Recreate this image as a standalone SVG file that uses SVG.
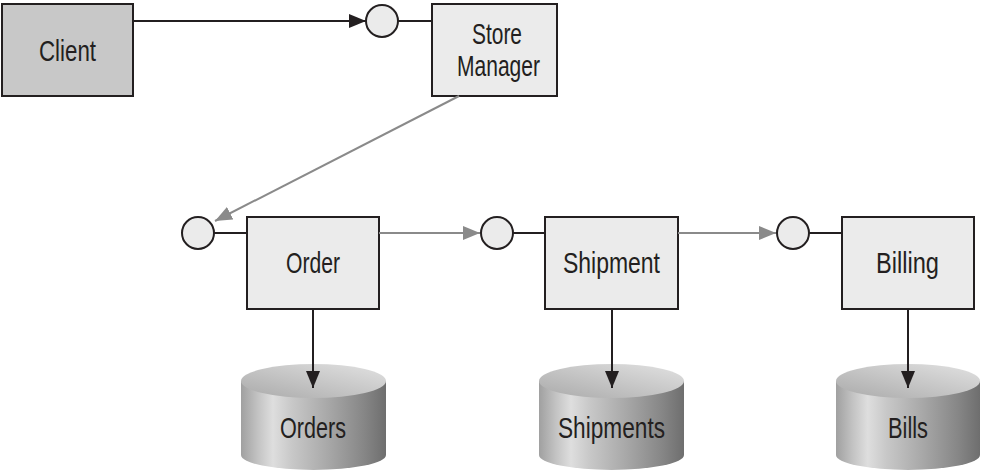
<svg xmlns="http://www.w3.org/2000/svg" width="983" height="471" viewBox="0 0 983 471">
<defs>
<style>
.box{fill:#ebebeb;stroke:#231f20;stroke-width:2}
.client{fill:#c8c8c8;stroke:#231f20;stroke-width:2}
.port{fill:#ebebeb;stroke:#231f20;stroke-width:2}
.lbl{font-family:"Liberation Sans",Arial,sans-serif;font-size:30px;fill:#231f20;text-anchor:middle}
.dark{stroke:#231f20;stroke-width:2;fill:none}
.gray{stroke:#8a8a8a;stroke-width:2;fill:none}
.cylbody{fill:url(#side)}
.cyltop{fill:url(#top)}
</style>
<linearGradient id="side" x1="0" y1="0" x2="1" y2="0">
<stop offset="0" stop-color="#a0a0a0"/>
<stop offset="0.12" stop-color="#c4c4c4"/>
<stop offset="0.22" stop-color="#dedede"/>
<stop offset="0.35" stop-color="#c8c8c8"/>
<stop offset="0.6" stop-color="#a8a8a8"/>
<stop offset="0.85" stop-color="#868686"/>
<stop offset="1" stop-color="#6e6e6e"/>
</linearGradient>
<linearGradient id="top" x1="0" y1="1" x2="1" y2="0">
<stop offset="0" stop-color="#aaaaaa"/>
<stop offset="0.5" stop-color="#c6c6c6"/>
<stop offset="1" stop-color="#e2e2e2"/>
</linearGradient>
<marker id="ahd" markerWidth="18" markerHeight="14" refX="17" refY="7" orient="auto" markerUnits="userSpaceOnUse">
<path d="M0,0 L17,7 L0,14 Z" fill="#231f20"/>
</marker>
<marker id="ahg" markerWidth="18" markerHeight="14" refX="17" refY="7" orient="auto" markerUnits="userSpaceOnUse">
<path d="M0,0 L17,7 L0,14 Z" fill="#8a8a8a"/>
</marker>
</defs>

<g id="client">
<rect class="client" x="2" y="4" width="131" height="92"/>
<text class="lbl" x="67.5" y="61" textLength="57" lengthAdjust="spacingAndGlyphs">Client</text>
</g>

<g id="store-manager-port">
<circle class="port" cx="382" cy="21" r="16"/>
</g>
<g id="store-manager">
<rect class="box" x="432" y="4" width="125" height="92"/>
<text class="lbl" x="497" y="44" textLength="50" lengthAdjust="spacingAndGlyphs">Store</text>
<text class="lbl" x="498.5" y="76" textLength="83" lengthAdjust="spacingAndGlyphs">Manager</text>
</g>

<g id="order-port">
<circle class="port" cx="198" cy="233" r="16"/>
</g>
<g id="order">
<rect class="box" x="247" y="217" width="132" height="92"/>
<text class="lbl" x="313" y="273" textLength="54" lengthAdjust="spacingAndGlyphs">Order</text>
</g>

<g id="shipment-port">
<circle class="port" cx="497" cy="233" r="16"/>
</g>
<g id="shipment">
<rect class="box" x="545" y="217" width="133" height="92"/>
<text class="lbl" x="611.5" y="273" textLength="97" lengthAdjust="spacingAndGlyphs">Shipment</text>
</g>

<g id="billing-port">
<circle class="port" cx="793" cy="233" r="16"/>
</g>
<g id="billing">
<rect class="box" x="842" y="217" width="132" height="92"/>
<text class="lbl" x="907.5" y="273" textLength="63" lengthAdjust="spacingAndGlyphs">Billing</text>
</g>

<g id="orders-db">
<path class="cylbody" d="M241,381 L241,455 A72.5,15 0 0 0 386,455 L386,381 Z"/>
<ellipse class="cyltop" cx="313.5" cy="381" rx="72.5" ry="17"/>
<text class="lbl" x="313" y="438" textLength="66" lengthAdjust="spacingAndGlyphs">Orders</text>
</g>

<g id="shipments-db">
<path class="cylbody" d="M539,381 L539,455 A72.5,15 0 0 0 684,455 L684,381 Z"/>
<ellipse class="cyltop" cx="611.5" cy="381" rx="72.5" ry="17"/>
<text class="lbl" x="611.5" y="438" textLength="107" lengthAdjust="spacingAndGlyphs">Shipments</text>
</g>

<g id="bills-db">
<path class="cylbody" d="M836,381 L836,455 A72,15 0 0 0 980,455 L980,381 Z"/>
<ellipse class="cyltop" cx="908" cy="381" rx="72" ry="17"/>
<text class="lbl" x="908" y="438" textLength="40" lengthAdjust="spacingAndGlyphs">Bills</text>
</g>

<g id="connectors">
<line class="dark" x1="133" y1="21" x2="366" y2="21" marker-end="url(#ahd)"/>
<line class="dark" x1="398" y1="21" x2="432" y2="21"/>
<line class="gray" x1="459" y1="96" x2="215" y2="221" marker-end="url(#ahg)"/>
<line class="dark" x1="214" y1="233" x2="247" y2="233"/>
<line class="gray" x1="379" y1="233" x2="480" y2="233" marker-end="url(#ahg)"/>
<line class="dark" x1="513" y1="233" x2="545" y2="233"/>
<line class="gray" x1="678" y1="233" x2="776" y2="233" marker-end="url(#ahg)"/>
<line class="dark" x1="809" y1="233" x2="842" y2="233"/>
<line class="dark" x1="313" y1="309" x2="313" y2="388" marker-end="url(#ahd)"/>
<line class="dark" x1="612" y1="309" x2="612" y2="388" marker-end="url(#ahd)"/>
<line class="dark" x1="908" y1="309" x2="908" y2="388" marker-end="url(#ahd)"/>
</g>
</svg>
